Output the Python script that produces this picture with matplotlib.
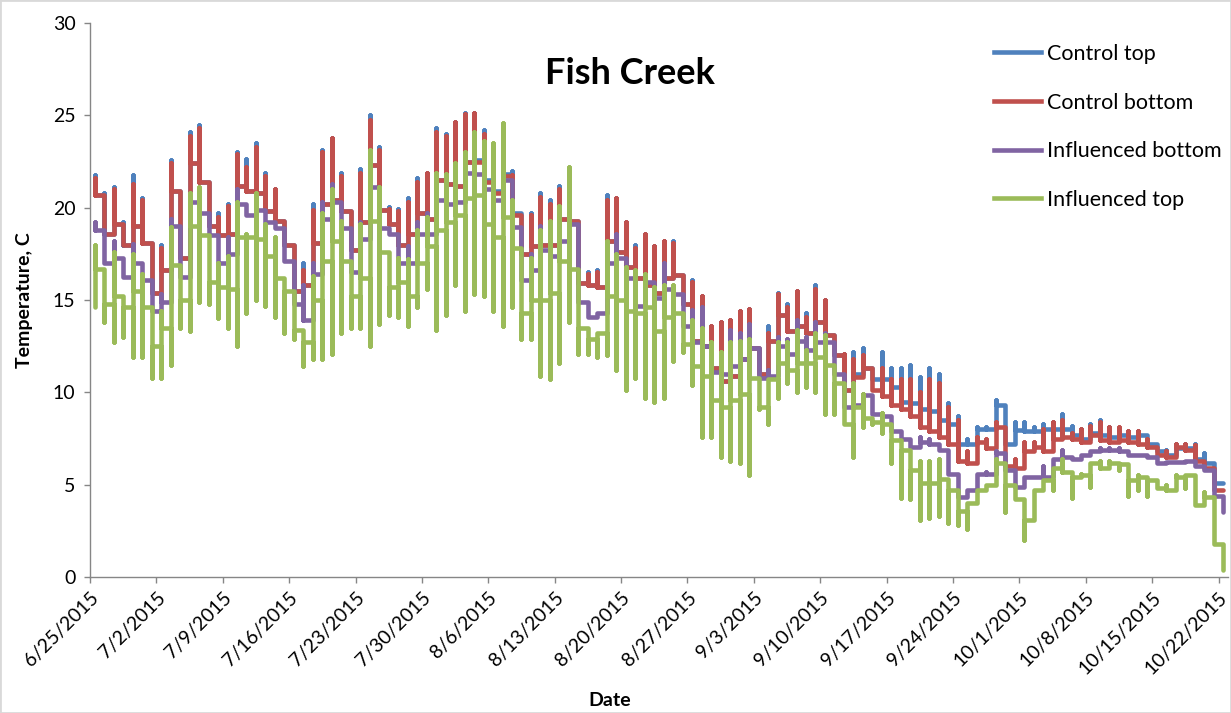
import numpy as np
import pandas as pd
import matplotlib
matplotlib.use('Agg')
import matplotlib.pyplot as plt
from matplotlib.lines import Line2D
from matplotlib.patches import Rectangle

plt.rcParams['font.family'] = ['Lato', 'DejaVu Sans']

# one value per day, 6/25/2015 .. 10/22/2015 (hourly readings collapse onto the day)
first_day = '2015-06-25'
n_days = 120

tick_dates = ['2015-06-25', '2015-07-02', '2015-07-09', '2015-07-16', '2015-07-23', '2015-07-30',
              '2015-08-06', '2015-08-13', '2015-08-20', '2015-08-27', '2015-09-03', '2015-09-10',
              '2015-09-17', '2015-09-24', '2015-10-01', '2015-10-08', '2015-10-15', '2015-10-22']
tick_labels = ['6/25/2015', '7/2/2015', '7/9/2015', '7/16/2015', '7/23/2015', '7/30/2015',
               '8/6/2015', '8/13/2015', '8/20/2015', '8/27/2015', '9/3/2015', '9/10/2015',
               '9/17/2015', '9/24/2015', '10/1/2015', '10/8/2015', '10/15/2015', '10/22/2015']

# Control top: daily max and level carried over night
ct_hi = [21.75, 20.8, 21.1, 19.2, 21.75, 20.5, 18.1, 18.0, 22.6, 20.9,
         24.1, 24.5, 21.4, 19.7, 20.2, 23.0, 22.65, 23.5, 21.9, 21.0,
         19.3, 18.0, 17.0, 20.2, 23.1, 23.75, 21.9, 19.8, 22.1, 25.0,
         23.3, 20.05, 19.95, 20.5, 21.6, 21.9, 24.3, 24.0, 24.65, 25.1,
         25.1, 24.2, 21.4, 21.7, 22.0, 19.6, 19.7, 20.8, 20.4, 21.2,
         19.4, 19.3, 16.5, 16.6, 20.7, 20.5, 19.2, 18.0, 18.6, 17.9,
         18.2, 18.2, 16.35, 16.1, 15.2, 13.6, 13.8, 13.9, 14.4, 14.5,
         12.4, 13.6, 15.4, 14.8, 15.5, 14.3, 15.8, 15.0, 13.1, 12.1,
         12.2, 12.4, 11.3, 12.2, 11.3, 11.3, 11.5, 10.85, 11.3, 11.0,
         9.4, 8.7, 7.5, 8.1, 8.1, 9.6, 9.3, 8.4, 8.4, 8.1,
         8.3, 8.4, 8.8, 8.2, 8.0, 8.3, 8.5, 8.1, 8.0, 7.9,
         7.9, 7.7, 7.2, 6.9, 7.2, 7.2, 7.2, 6.7, 6.2, 5.1]
ct_night = [20.7, 18.6, 19.1, 18.0, 19.0, 18.1, 15.4, 16.6, 20.9, 17.3,
            22.4, 21.4, 19.0, 18.5, 18.6, 21.2, 20.9, 20.8, 19.8, 19.3,
            18.0, 15.5, 15.8, 18.1, 20.2, 20.4, 19.8, 17.7, 19.2, 22.3,
            19.9, 19.1, 18.0, 18.6, 19.7, 19.4, 21.5, 21.3, 21.2, 22.5,
            22.6, 21.5, 20.9, 21.8, 19.7, 17.5, 17.9, 18.0, 18.0, 19.4,
            19.3, 15.9, 15.8, 15.7, 18.2, 17.6, 16.8, 16.2, 15.8, 15.4,
            16.2, 16.35, 14.8, 12.8, 12.5, 11.3, 10.6, 10.9, 11.8, 12.4,
            11.0, 12.8, 14.2, 13.3, 13.6, 13.2, 13.8, 13.1, 12.0, 10.1,
            11.0, 11.3, 10.7, 10.7, 10.3, 9.5, 9.4, 9.1, 9.0, 8.5,
            8.3, 7.2, 7.2, 8.0, 8.0, 9.3, 7.2, 7.95, 7.9, 7.9,
            8.0, 8.0, 8.0, 7.7, 7.5, 7.8, 7.7, 7.6, 7.7, 7.6,
            7.7, 7.2, 6.8, 6.6, 7.0, 7.0, 6.4, 6.2, 5.1, 5.1]

# Control bottom
cb_hi = [21.6, 20.7, 21.0, 19.1, 21.3, 20.4, 18.1, 17.8, 22.4, 20.9,
         23.9, 24.3, 21.4, 19.5, 20.1, 22.9, 22.2, 23.3, 21.7, 21.0,
         19.3, 18.0, 16.6, 19.9, 23.0, 23.75, 21.7, 19.8, 21.9, 24.75,
         23.1, 19.95, 19.8, 20.3, 21.4, 21.9, 24.1, 23.9, 24.65, 25.05,
         25.1, 24.0, 21.4, 21.7, 21.75, 19.6, 19.6, 20.6, 20.2, 21.0,
         19.4, 19.3, 16.4, 16.5, 20.4, 20.5, 19.2, 17.8, 18.6, 17.9,
         18.2, 18.1, 16.35, 16.0, 15.2, 13.6, 13.8, 13.9, 14.4, 14.5,
         12.4, 13.2, 15.3, 14.6, 15.5, 14.1, 15.6, 15.0, 13.1, 12.1,
         11.8, 12.0, 11.3, 11.3, 10.7, 10.7, 10.7, 10.0, 10.7, 10.5,
         9.2, 8.5, 6.8, 7.6, 7.5, 8.4, 8.1, 6.4, 7.3, 7.3,
         8.0, 8.4, 8.5, 7.8, 8.0, 8.2, 8.4, 8.1, 8.1, 7.9,
         7.9, 7.5, 7.06, 6.8, 7.2, 7.2, 7.15, 6.3, 5.9, 4.7]
cb_night = [20.7, 18.6, 19.1, 18.0, 19.0, 18.1, 15.4, 16.6, 20.9, 17.3,
            22.4, 21.4, 19.0, 18.5, 18.6, 21.2, 20.9, 20.8, 19.8, 19.3,
            18.0, 15.5, 15.8, 18.1, 20.2, 20.4, 19.8, 17.7, 19.2, 22.3,
            19.9, 19.1, 18.0, 18.6, 19.7, 19.4, 21.5, 21.3, 21.2, 22.5,
            22.5, 21.4, 20.8, 21.7, 19.6, 17.5, 17.9, 18.0, 18.0, 19.4,
            19.3, 15.9, 15.8, 15.7, 18.2, 17.6, 16.8, 16.2, 15.8, 15.4,
            16.2, 16.35, 14.8, 12.8, 12.5, 11.3, 10.6, 10.9, 11.8, 12.4,
            11.0, 12.8, 14.2, 13.3, 13.6, 13.2, 13.8, 13.1, 12.0, 10.1,
            10.85, 11.3, 10.1, 9.8, 9.3, 9.1, 8.7, 8.1, 7.9, 7.6,
            7.2, 6.3, 6.2, 7.3, 7.0, 8.1, 6.0, 5.9, 6.8, 7.06,
            6.8, 7.5, 7.6, 7.5, 7.3, 7.7, 7.4, 7.3, 7.4, 7.3,
            7.2, 7.06, 6.6, 6.5, 7.06, 6.9, 6.3, 5.9, 4.7, 4.7]

# Influenced bottom
ib_hi = [19.2, 18.8, 18.2, 17.3, 18.05, 17.0, 16.1, 15.3, 19.4, 19.0,
         20.4, 20.3, 19.7, 18.5, 18.4, 21.0, 20.2, 19.9, 19.9, 19.2,
         18.9, 17.1, 15.8, 17.0, 20.3, 21.3, 20.3, 18.9, 19.2, 22.2,
         21.1, 18.9, 18.6, 17.9, 19.2, 19.7, 21.5, 20.4, 20.3, 21.9,
         21.9, 21.8, 21.0, 21.5, 21.5, 18.95, 17.5, 19.0, 17.7, 18.4,
         19.2, 19.1, 14.9, 14.3, 17.0, 18.6, 17.3, 16.2, 16.0, 16.0,
         17.0, 15.6, 15.3, 14.45, 14.6, 12.5, 11.1, 13.4, 13.2, 13.7,
         12.4, 11.2, 13.0, 12.9, 13.9, 13.0, 13.8, 13.2, 12.7, 11.0,
         9.5, 9.9, 9.85, 8.9, 8.7, 7.9, 7.5, 7.6, 7.5, 7.2,
         6.9, 5.6, 4.7, 5.6, 5.7, 6.8, 6.7, 5.8, 5.4, 5.4,
         6.0, 6.3, 6.9, 6.5, 6.6, 6.8, 7.0, 7.0, 7.0, 6.8,
         6.6, 6.6, 6.5, 6.2, 6.25, 6.3, 6.3, 6.0, 5.8, 4.4]
ib_night = [18.8, 17.0, 17.3, 16.25, 17.0, 16.1, 14.4, 14.9, 19.0, 16.25,
            20.3, 19.7, 18.5, 17.0, 17.5, 20.2, 19.6, 19.9, 19.2, 18.9,
            17.1, 14.8, 13.9, 16.4, 19.4, 20.3, 18.9, 16.5, 18.3, 21.1,
            18.9, 18.6, 17.0, 17.0, 18.6, 18.6, 20.4, 20.2, 20.3, 21.9,
            21.8, 21.0, 20.4, 21.5, 18.95, 16.1, 16.6, 17.7, 17.4, 18.2,
            19.1, 14.9, 14.1, 14.3, 17.0, 17.3, 16.2, 14.7, 16.0, 15.1,
            15.6, 15.3, 13.6, 12.7, 12.5, 11.1, 11.0, 11.4, 11.8, 12.4,
            10.8, 10.9, 12.5, 12.1, 12.8, 12.3, 12.7, 12.7, 11.0, 9.2,
            9.3, 9.85, 8.8, 8.7, 7.9, 7.5, 7.05, 7.3, 7.2, 6.9,
            5.6, 4.35, 4.7, 5.6, 5.6, 6.7, 5.8, 4.9, 5.4, 5.4,
            5.4, 6.4, 6.5, 6.4, 6.6, 6.8, 6.9, 6.9, 6.8, 6.6,
            6.6, 6.5, 6.2, 6.25, 6.25, 6.3, 6.0, 5.8, 4.4, 3.5]

# Influenced top: daily max, daily min and night level
it_hi = [18.0, 16.7, 17.6, 15.2, 17.5, 16.4, 14.6, 14.4, 18.95, 16.9,
         20.8, 21.1, 18.5, 17.0, 17.4, 20.3, 18.6, 20.8, 19.1, 18.4,
         16.2, 15.5, 13.4, 16.3, 19.7, 21.0, 19.3, 17.1, 19.1, 23.1,
         21.1, 17.6, 17.3, 17.2, 18.8, 19.5, 21.9, 21.8, 22.4, 23.0,
         24.1, 23.6, 23.5, 24.6, 20.4, 17.8, 17.3, 18.8, 19.3, 20.1,
         22.2, 16.7, 13.5, 13.2, 18.2, 17.5, 16.8, 16.6, 16.4, 15.7,
         15.8, 15.8, 14.3, 13.9, 13.5, 12.7, 12.2, 12.7, 12.8, 12.9,
         10.8, 10.7, 12.7, 12.7, 13.4, 12.3, 13.2, 13.1, 11.5, 10.5,
         10.5, 9.9, 8.6, 8.9, 8.3, 7.4, 6.9, 6.3, 6.3, 6.4,
         5.3, 4.7, 4.0, 4.7, 5.0, 6.4, 6.2, 5.0, 4.2, 4.7,
         5.25, 5.9, 6.4, 5.7, 5.6, 6.2, 6.3, 6.3, 6.2, 6.1,
         5.5, 5.4, 5.25, 5.0, 5.5, 5.5, 5.5, 4.6, 4.35, 1.8]
it_lo = [14.6, 13.8, 12.7, 13.0, 11.9, 11.9, 10.8, 10.8, 11.5, 13.5,
         13.3, 14.9, 14.8, 14.0, 13.5, 12.5, 14.3, 15.0, 14.7, 14.1,
         13.2, 12.9, 11.4, 11.8, 11.8, 12.1, 13.2, 13.5, 13.5, 12.5,
         13.7, 14.2, 14.1, 13.6, 14.6, 15.6, 13.4, 14.2, 15.8, 14.4,
         15.3, 15.2, 14.4, 13.6, 14.6, 12.9, 12.9, 10.9, 10.7, 11.6,
         13.8, 12.1, 12.1, 11.9, 12.0, 11.2, 10.1, 10.8, 9.7, 9.5,
         9.7, 11.7, 12.2, 10.4, 7.6, 7.6, 6.5, 6.3, 6.2, 5.5,
         9.1, 8.3, 9.7, 10.5, 10.0, 10.3, 10.0, 8.8, 8.8, 8.3,
         6.5, 8.1, 8.3, 7.8, 6.2, 4.3, 4.2, 3.1, 3.2, 3.3,
         2.9, 2.8, 2.6, 4.0, 4.7, 5.0, 3.5, 4.2, 2.0, 3.1,
         4.7, 4.7, 5.7, 4.3, 5.4, 4.9, 5.9, 5.9, 5.8, 4.4,
         4.7, 4.4, 4.9, 4.7, 5.4, 4.8, 3.9, 3.9, 1.8, 0.4]
it_night = [16.7, 14.8, 15.2, 14.6, 15.5, 14.6, 12.5, 13.5, 16.9, 15.0,
            19.0, 18.5, 16.0, 15.7, 15.6, 18.4, 18.4, 18.3, 17.4, 16.2,
            15.5, 13.4, 12.7, 15.0, 17.1, 18.2, 17.1, 15.2, 16.2, 19.3,
            17.6, 15.7, 16.0, 15.2, 17.0, 17.9, 18.8, 19.2, 19.6, 20.5,
            20.7, 19.1, 18.4, 19.5, 17.8, 14.3, 15.0, 15.0, 15.4, 17.1,
            16.7, 13.5, 12.9, 13.2, 15.2, 15.0, 14.4, 14.3, 14.6, 13.3,
            14.1, 14.3, 12.6, 11.4, 10.9, 9.6, 9.2, 9.6, 9.9, 10.8,
            9.2, 10.7, 11.6, 11.2, 11.6, 11.6, 11.9, 11.5, 10.5, 8.3,
            9.2, 8.6, 8.4, 8.3, 7.4, 6.9, 5.8, 5.1, 5.1, 5.3,
            4.7, 3.6, 4.0, 4.7, 5.0, 6.2, 5.0, 4.2, 3.1, 4.7,
            5.25, 5.9, 5.7, 5.4, 5.5, 6.2, 5.9, 6.2, 6.1, 5.25,
            5.4, 5.25, 4.8, 4.7, 5.4, 5.5, 3.9, 4.35, 1.8, 0.4]

series_names = ['Control top', 'Control bottom', 'Influenced bottom', 'Influenced top']
series_colors = ['#4F81BD', '#C0504D', '#8064A2', '#9BBB59']


def day_path(days, hi, night, lo=None):
    # every reading of a day sits on the same x, so each day is a vertical run
    xs, ys = [], []
    for i in range(len(days)):
        if i > 0:
            xs.append(days[i]); ys.append(night[i - 1])
        xs.append(days[i]); ys.append(lo[i] if lo is not None else night[i])
        xs.append(days[i]); ys.append(hi[i])
        xs.append(days[i]); ys.append(night[i])
    return xs, ys


days = np.datetime64(first_day + 'T12:00') + np.arange(n_days) * np.timedelta64(1, 'D')

fig = plt.figure(figsize=(12.31, 7.13), dpi=100)
ax = fig.add_axes([90 / 1231, 1 - 577 / 713, 1138 / 1231, 554 / 713])

paths = [day_path(days, ct_hi, ct_night),
         day_path(days, cb_hi, cb_night),
         day_path(days, ib_hi, ib_night),
         day_path(days, it_hi, it_night, it_lo)]
lw = 3.3
for (xs, ys), c in zip(paths, series_colors):
    ax.plot(xs, ys, color=c, lw=lw, solid_capstyle='round', solid_joinstyle='round')

ax.set_ylim(0, 30)
ax.set_yticks(range(0, 31, 5))
ax.set_xlim(np.datetime64('2015-06-25'), np.datetime64('2015-10-23'))
ax.set_xticks(pd.to_datetime(tick_dates))
ax.set_xticklabels(tick_labels, rotation=45, ha='right', va='top', rotation_mode='anchor')

axis_grey = '#868686'
for s in ['top', 'right']:
    ax.spines[s].set_visible(False)
for s in ['left', 'bottom']:
    ax.spines[s].set_color(axis_grey)
    ax.spines[s].set_linewidth(1.0)
ax.tick_params(axis='both', direction='out', length=4.5, width=1.0, color=axis_grey,
               labelsize=14, labelcolor='black')
ax.tick_params(axis='x', pad=4)
ax.tick_params(axis='y', pad=6)

ax.set_ylabel('Temperature, C', fontsize=14, fontweight='bold')
ax.yaxis.set_label_coords(-0.05, 0.5)
fig.text(610 / 1231, 1 - 700 / 713, 'Date', ha='center', va='center', fontsize=14, fontweight='bold')
fig.text(630 / 1231, 1 - 73 / 713, 'Fish Creek', ha='center', va='center', fontsize=26, fontweight='bold')

handles = [Line2D([], [], color=c, lw=lw) for c in series_colors]
ax.legend(handles, series_names, loc='upper left', bbox_to_anchor=(994 / 1231, 1 - 44 / 713),
          bbox_transform=fig.transFigure, frameon=False, fontsize=15.5, handlelength=2.2,
          handletextpad=0.25, labelspacing=1.33, borderpad=0, borderaxespad=0)

fig.patches.append(Rectangle((0, 0), 1, 1, transform=fig.transFigure, fill=False,
                             edgecolor='#d9d9d9', lw=2))

fig.savefig('out.png', dpi=100)
